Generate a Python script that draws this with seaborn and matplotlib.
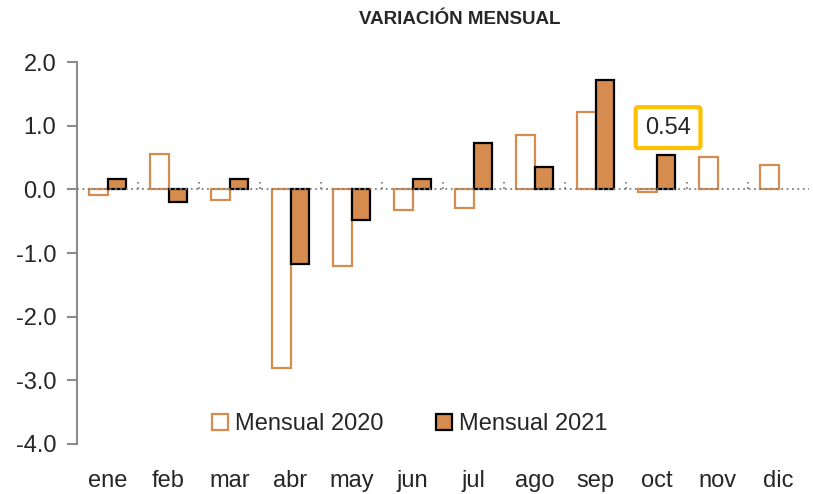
import matplotlib
matplotlib.use("Agg")
import matplotlib.pyplot as plt
from matplotlib.patches import Patch
import numpy as np
import pandas as pd
import seaborn as sns

meses = ["ene", "feb", "mar", "abr", "may", "jun", "jul", "ago", "sep", "oct", "nov", "dic"]
mensual_2020 = [-0.09, 0.56, -0.17, -2.80, -1.20, -0.32, -0.30, 0.86, 1.22, -0.04, 0.51, 0.38]
mensual_2021 = [0.17, -0.20, 0.16, -1.18, -0.48, 0.17, 0.73, 0.35, 1.71, 0.54, np.nan, np.nan]
series = ["Mensual 2020", "Mensual 2021"]

df = pd.DataFrame({
    "mes": meses * 2,
    "valor": mensual_2020 + mensual_2021,
    "serie": [series[0]] * 12 + [series[1]] * 12,
})

sns.set_style("white")
plt.rcParams["font.family"] = ["Liberation Sans Narrow", "Liberation Sans", "DejaVu Sans"]

naranja = "#D68C4E"
fig = plt.figure(figsize=(8.13, 4.94), dpi=100)
ax = fig.add_axes([77 / 813, 50 / 494, 732 / 813, 382 / 494])

sns.barplot(data=df, x="mes", y="valor", hue="serie", order=meses,
            hue_order=series, width=0.6, ax=ax, legend=False)

styles = [dict(fc="white", ec=naranja, lw=1.6), dict(fc=naranja, ec="black", lw=1.6)]
for cont, st in zip(ax.containers, styles):
    for bar in cont:
        bar.set_facecolor(st["fc"])
        bar.set_edgecolor(st["ec"])
        bar.set_linewidth(st["lw"])

ax.set_ylim(-4, 2)
ax.set_xlim(-0.5, len(meses) - 0.5)
ax.set_yticks(np.arange(-4, 2.1, 1))
ax.set_yticklabels([f"{v:.1f}" for v in np.arange(-4, 2.1, 1)], fontsize=17)
ax.set_xticklabels(meses, fontsize=17)
ax.set_xlabel("")
ax.set_ylabel("")

for s in ["top", "right", "bottom"]:
    ax.spines[s].set_visible(False)
ax.spines["left"].set_color("#8C8C8C")
ax.spines["left"].set_linewidth(1.5)
ax.tick_params(axis="y", left=True, length=7, color="#8C8C8C", width=1.5, pad=8)
ax.tick_params(axis="x", bottom=False, pad=15)

# eje en cero punteado con marcas entre categorias
ax.axhline(0, color="#7F7F7F", ls=(0, (1, 2)), lw=1.3, zorder=3)
for k in range(len(meses) - 1):
    ax.plot([k + 0.5, k + 0.5], [0, 0.12], color="#7F7F7F", ls=(0, (1, 2)), lw=1.3, zorder=3)

fig.text(460 / 813, 1 - 19 / 494, "VARIACIÓN MENSUAL", fontsize=13.5, fontweight="bold",
         ha="center", va="center", color="#262626")

ax.text(9.19, 0.97, "0.54", fontsize=17, ha="center", va="center",
        bbox=dict(boxstyle="round,pad=0.4,rounding_size=0.1", fc="white", ec="#FFC000", lw=3))

handles = [Patch(fc="white", ec=naranja, lw=1.6), Patch(fc=naranja, ec="black", lw=1.6)]
ax.legend(handles, series, loc="center left", bbox_to_anchor=(0.155, 0.052), ncol=2,
          frameon=False, fontsize=17, handlelength=0.7, handleheight=0.7,
          handletextpad=0.3, columnspacing=2.2)

fig.savefig("out.png", dpi=100)
